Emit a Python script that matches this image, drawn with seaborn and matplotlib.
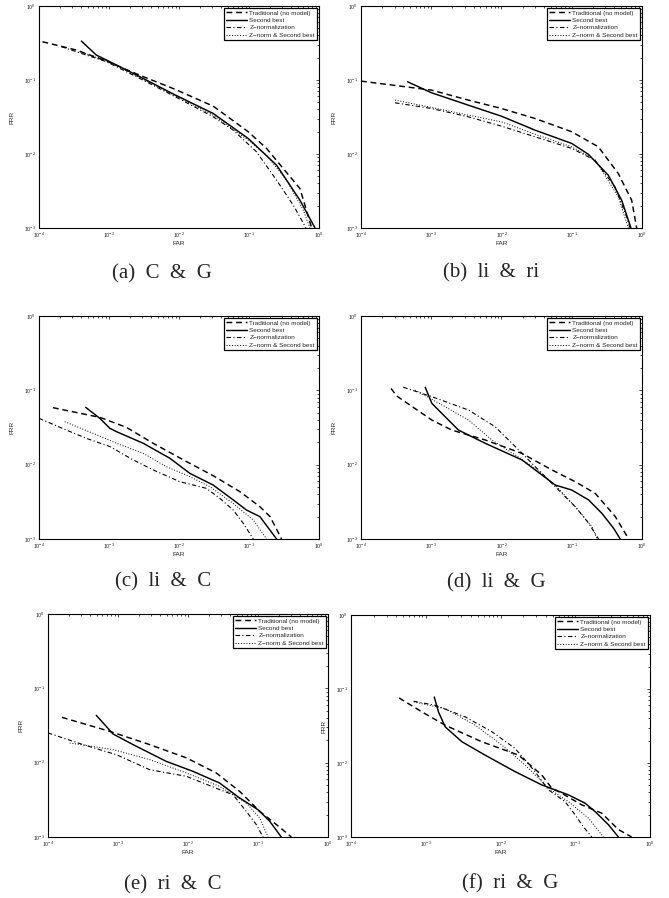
import matplotlib
matplotlib.use("Agg")
import matplotlib.pyplot as plt
import seaborn as sns

sns.set_style("white")
plt.rcParams["font.family"] = ["Liberation Sans", "DejaVu Sans"]
plt.rcParams["mathtext.fontset"] = "custom"
plt.rcParams["mathtext.rm"] = "Liberation Sans"
plt.rcParams["mathtext.it"] = "Liberation Sans"

# ---------------- data (FAR, FRR) ----------------
series_labels = ["Traditional (no model)", "Second best",
                 "Z\u2212normalization", "Z\u2212norm & Second best"]
captions = ["(a)  C  &  G", "(b)  li  &  ri", "(c)  li  &  C",
            "(d)  li  &  G", "(e)  ri  &  C", "(f)  ri  &  G"]

# (a) C & G
a_trad_far = [1.12e-4, 3.42e-4, 9.2e-4, 2.75e-3, 8.9e-3, 0.0308, 0.0975, 0.178, 0.309, 0.535, 0.785]
a_trad_frr = [0.329, 0.254, 0.180, 0.116, 0.0745, 0.0443, 0.020, 0.0119, 0.00635, 0.00341, 0.001]
a_sb_far = [4.03e-4, 6.6e-4, 9.2e-4, 2.75e-3, 8.9e-3, 0.0308, 0.0975, 0.248, 0.535, 0.877]
a_sb_frr = [0.336, 0.217, 0.186, 0.111, 0.0625, 0.0353, 0.0162, 0.00705, 0.00237, 0.001]
a_zn_far = [2.09e-4, 4.75e-4, 9.2e-4, 2.75e-3, 8.9e-3, 0.0308, 0.0596, 0.128, 0.248, 0.43, 0.652]
a_zn_frr = [0.282, 0.217, 0.177, 0.105, 0.0593, 0.0318, 0.021, 0.0107, 0.00442, 0.00203, 0.001]
a_zs_far = [3.82e-4, 9.2e-4, 2.75e-3, 8.9e-3, 0.0308, 0.0975, 0.178, 0.344, 0.597, 0.743]
a_zs_frr = [0.241, 0.182, 0.108, 0.0612, 0.0335, 0.0154, 0.00964, 0.00442, 0.00174, 0.001]

# (b) li & ri
b_trad_far = [1e-4, 1.01e-3, 3.37e-3, 0.01, 0.03, 0.0998, 0.239, 0.46, 0.713, 0.84]
b_trad_frr = [0.0966, 0.073, 0.0535, 0.0412, 0.0302, 0.020, 0.0125, 0.00544, 0.00237, 0.001]
b_sb_far = [4.6e-4, 1.01e-3, 3.37e-3, 0.01, 0.03, 0.0998, 0.172, 0.332, 0.514, 0.697]
b_sb_frr = [0.0946, 0.0672, 0.0457, 0.0324, 0.021, 0.0139, 0.00993, 0.00516, 0.00237, 0.001]
b_zn_far = [3.05e-4, 1.01e-3, 3.37e-3, 0.01, 0.03, 0.0998, 0.214, 0.413, 0.605, 0.675]
b_zn_frr = [0.0492, 0.0412, 0.0318, 0.0238, 0.0171, 0.0119, 0.00824, 0.00359, 0.00141, 0.001]
b_zs_far = [3.05e-4, 1.01e-3, 3.37e-3, 0.01, 0.03, 0.0998, 0.214, 0.46, 0.638]
b_zs_frr = [0.0535, 0.0426, 0.0335, 0.0272, 0.0185, 0.0125, 0.00841, 0.00263, 0.001]

# (c) li & C
c_trad_far = [1.58e-4, 7.4e-4, 1.77e-3, 4.27e-3, 0.0128, 0.0308, 0.0741, 0.143, 0.2, 0.292]
c_trad_frr = [0.0585, 0.0433, 0.0318, 0.0194, 0.011, 0.0071, 0.00434, 0.00272, 0.002, 0.001]
c_sb_far = [4.65e-4, 7.4e-4, 1.03e-3, 1.28e-3, 3.08e-3, 7.4e-3, 0.0143, 0.0308, 0.0596, 0.0923, 0.143, 0.248]
c_sb_frr = [0.059, 0.042, 0.0308, 0.0278, 0.0194, 0.0122, 0.00764, 0.00532, 0.00335, 0.00245, 0.002, 0.001]
c_zn_far = [1.0e-4, 2.46e-4, 4.75e-4, 1.03e-3, 2.21e-3, 4.27e-3, 0.0103, 0.0247, 0.0384, 0.0596, 0.0828, 0.115]
c_zn_frr = [0.042, 0.0292, 0.0226, 0.0175, 0.0116, 0.0085, 0.0059, 0.0048, 0.00352, 0.00245, 0.00163, 0.001]
c_zs_far = [2.33e-4, 5.9e-4, 1.28e-3, 3.08e-3, 6.6e-3, 0.0143, 0.0276, 0.0596, 0.115, 0.178]
c_zs_frr = [0.0379, 0.0264, 0.0194, 0.0142, 0.0094, 0.0069, 0.00506, 0.0030, 0.0018, 0.001]

# (d) li & G
d_trad_far = [2.68e-4, 3.22e-4, 1.02e-3, 1.96e-3, 5.85e-3, 0.0195, 0.0521, 0.112, 0.216, 0.417, 0.646]
d_trad_frr = [0.106, 0.084, 0.0398, 0.0292, 0.0215, 0.0142, 0.0085, 0.0059, 0.00411, 0.002, 0.001]
d_sb_far = [8.2e-4, 1.02e-3, 1.76e-3, 2.44e-3, 5.85e-3, 0.0195, 0.0582, 0.1, 0.174, 0.269, 0.395, 0.49]
d_sb_frr = [0.11, 0.0668, 0.0398, 0.0292, 0.0194, 0.0116, 0.00532, 0.00456, 0.00335, 0.00221, 0.00139, 0.001]
d_zn_far = [4.0e-4, 1.02e-3, 3.39e-3, 8.1e-3, 0.0157, 0.0302, 0.0582, 0.112, 0.174, 0.241]
d_zn_frr = [0.11, 0.0822, 0.0543, 0.0324, 0.0175, 0.0094, 0.00506, 0.00272, 0.00163, 0.001]
d_zs_far = [5.9e-4, 1.57e-3, 3.39e-3, 7.3e-3, 0.0157, 0.0302, 0.0582, 0.112, 0.194, 0.229]
d_zs_frr = [0.101, 0.0603, 0.0398, 0.0215, 0.0135, 0.0089, 0.00532, 0.00272, 0.00147, 0.001]

# (e) ri & C
e_trad_far = [1.58e-4, 7.6e-4, 2.83e-3, 9.5e-3, 0.0254, 0.0547, 0.106, 0.183, 0.30]
e_trad_frr = [0.0407, 0.0264, 0.0175, 0.0116, 0.00726, 0.00411, 0.00221, 0.00147, 0.001]
e_sb_far = [4.9e-4, 8.5e-4, 1.64e-3, 4.9e-3, 0.0118, 0.0283, 0.0547, 0.1, 0.147, 0.215]
e_sb_frr = [0.0433, 0.0243, 0.0175, 0.0104, 0.00764, 0.00532, 0.00335, 0.00233, 0.00163, 0.001]
e_zn_far = [1e-4, 3.16e-4, 9.5e-4, 2.83e-3, 9.5e-3, 0.0283, 0.044, 0.068, 0.0946, 0.118]
e_zn_frr = [0.0251, 0.0175, 0.0128, 0.00805, 0.00655, 0.00434, 0.00371, 0.00221, 0.00147, 0.001]
e_zs_far = [2.04e-4, 8.5e-4, 2.83e-3, 9.5e-3, 0.0283, 0.068, 0.106, 0.139]
e_zs_frr = [0.0184, 0.015, 0.011, 0.00726, 0.0048, 0.00287, 0.0018, 0.001]

# (f) ri & G
f_trad_far = [4.4e-4, 8.9e-4, 1.82e-3, 5.6e-3, 0.0174, 0.0356, 0.0485, 0.066, 0.122, 0.226, 0.378, 0.569]
f_trad_frr = [0.0757, 0.049, 0.0324, 0.0194, 0.0128, 0.0069, 0.00456, 0.0039, 0.00272, 0.0021, 0.00126, 0.001]
f_sb_far = [1.3e-3, 1.48e-3, 1.82e-3, 3.04e-3, 6.2e-3, 0.0157, 0.0356, 0.081, 0.135, 0.184, 0.277, 0.378]
f_sb_frr = [0.078, 0.049, 0.0308, 0.0194, 0.0128, 0.00764, 0.00506, 0.00371, 0.00287, 0.00221, 0.00147, 0.001]
f_zn_far = [6.9e-4, 1.34e-3, 3.37e-3, 7.7e-3, 0.0157, 0.029, 0.0438, 0.0731, 0.0995, 0.122, 0.166]
f_zn_frr = [0.0682, 0.0603, 0.042, 0.0264, 0.0157, 0.00764, 0.00434, 0.0030, 0.002, 0.00147, 0.001]
f_zs_far = [6.9e-4, 1.82e-3, 4.6e-3, 0.0104, 0.0214, 0.0438, 0.081, 0.15, 0.238]
f_zs_frr = [0.0668, 0.0543, 0.0324, 0.0175, 0.0094, 0.00456, 0.0030, 0.0018, 0.001]

panels = [
    [(a_trad_far, a_trad_frr), (a_sb_far, a_sb_frr), (a_zn_far, a_zn_frr), (a_zs_far, a_zs_frr)],
    [(b_trad_far, b_trad_frr), (b_sb_far, b_sb_frr), (b_zn_far, b_zn_frr), (b_zs_far, b_zs_frr)],
    [(c_trad_far, c_trad_frr), (c_sb_far, c_sb_frr), (c_zn_far, c_zn_frr), (c_zs_far, c_zs_frr)],
    [(d_trad_far, d_trad_frr), (d_sb_far, d_sb_frr), (d_zn_far, d_zn_frr), (d_zs_far, d_zs_frr)],
    [(e_trad_far, e_trad_frr), (e_sb_far, e_sb_frr), (e_zn_far, e_zn_frr), (e_zs_far, e_zs_frr)],
    [(f_trad_far, f_trad_frr), (f_sb_far, f_sb_frr), (f_zn_far, f_zn_frr), (f_zs_far, f_zs_frr)],
]

# ---------------- layout / styles ----------------
W, H = 669, 898
fig = plt.figure(figsize=(W / 100, H / 100), dpi=100)
fig.patch.set_facecolor("white")

# axes boxes in pixels: left, right, top, bottom
boxes = [(39, 319, 6, 228), (361, 642, 6, 228),
         (39, 319, 316, 539), (361, 642, 316, 539),
         (48, 328, 614, 837), (351, 650, 615, 837)]
caption_pos = [(162, 274), (491, 273), (163, 582), (496, 583), (173, 885), (510, 884)]

styles = [
    dict(linestyle=(0, (4.0, 2.6)), linewidth=1.05),
    dict(linestyle="-", linewidth=1.05),
    dict(linestyle=(0, (4.0, 2.2, 1.0, 2.2)), linewidth=0.8),
    dict(linestyle=(0, (1.0, 1.8)), linewidth=0.7),
]

for i, (box, series) in enumerate(zip(boxes, panels)):
    l, r, t, b = box
    ax = fig.add_axes([l / W, 1 - b / H, (r - l) / W, (b - t) / H])
    handles = []
    for (far, frr), lab, st in zip(series, series_labels, styles):
        sns.lineplot(x=far, y=frr, ax=ax, color="black", estimator=None,
                     sort=False, label=lab, **st)
        handles.append(ax.lines[-1])
    ax.set_xscale("log")
    ax.set_yscale("log")
    ax.set_xlim(1e-4, 1)
    ax.set_ylim(1e-3, 1)
    ax.set_xlabel("FAR", fontsize=4.6, labelpad=0.5)
    ax.set_ylabel("FRR", fontsize=4.6, labelpad=7)
    ax.tick_params(which="both", direction="in", top=True, right=True,
                   labelsize=3.8, width=0.5, color="black")
    ax.tick_params(which="major", length=2.4)
    ax.tick_params(axis="x", which="major", pad=2.2)
    ax.tick_params(axis="y", which="major", pad=2.2)
    ax.tick_params(which="minor", length=1.2)
    for sp in ax.spines.values():
        sp.set_linewidth(0.8)
        sp.set_color("black")
    leg = ax.legend(handles=handles, labels=series_labels, loc="upper right",
                    fontsize=4.6, frameon=True, fancybox=False, framealpha=1,
                    edgecolor="black", borderaxespad=0.3, borderpad=0.35,
                    handlelength=3.3, handletextpad=0.3, labelspacing=0.3)
    leg.get_frame().set_linewidth(0.9)
    cx, cy = caption_pos[i]
    fig.text(cx / W, 1 - cy / H, captions[i], ha="center", va="center",
             fontsize=15, family=["Liberation Serif", "DejaVu Serif"])

fig.savefig("out.png", dpi=100, facecolor="white")
